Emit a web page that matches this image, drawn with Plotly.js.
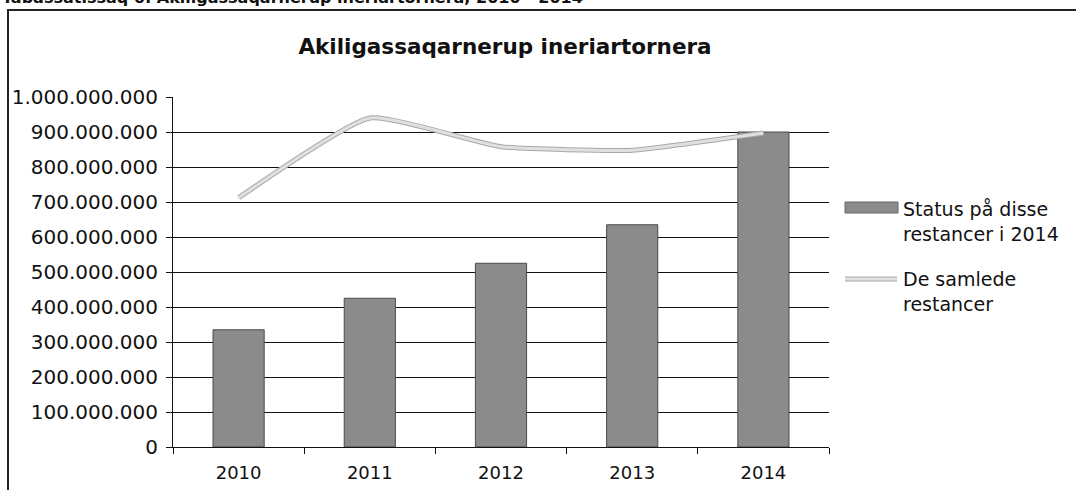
<!DOCTYPE html>
<html>
<head>
<meta charset="utf-8">
<script src="https://cdn.plot.ly/plotly-3.0.1.min.js"></script>
<style>html,body{margin:0;padding:0;background:#fff;}#chart{width:1076px;height:490px;}</style>
</head>
<body>
<div id="chart"></div>
<script>
const years = ['2010', '2011', '2012', '2013', '2014'];
const statusValues = [335000000, 425000000, 525000000, 635000000, 900000000];
const totalValues = [712000000, 940000000, 858000000, 848000000, 897000000];
const yTickValues = [0, 100000000, 200000000, 300000000, 400000000, 500000000, 600000000, 700000000, 800000000, 900000000, 1000000000];
const seriesNames = ['Status på disse restancer i 2014', 'De samlede restancer'];

const W = 1076, H = 490;
const L = 173, R = 829, T = 97, B = 447;
const px = x => (x - L) / (R - L);
const py = y => (B - y) / (B - T);
const font = 'DejaVu Sans, Verdana, sans-serif';

const traces = [
  {
    type: 'bar', x: years, y: statusValues, name: seriesNames[0],
    marker: {color: '#8b8b8b', line: {color: '#4a4a4a', width: 1}},
    showlegend: false, hoverinfo: 'x+y'
  },
  {
    type: 'scatter', mode: 'lines', x: years, y: totalValues, name: seriesNames[1],
    line: {color: '#a8a8a8', width: 5, shape: 'spline', smoothing: 0.45},
    showlegend: false, hoverinfo: 'skip'
  },
  {
    type: 'scatter', mode: 'lines', x: years, y: totalValues, name: seriesNames[1],
    line: {color: '#e0e0e0', width: 3, shape: 'spline', smoothing: 0.45},
    showlegend: false, hoverinfo: 'x+y'
  }
];

const layout = {
  width: W, height: H,
  margin: {l: L, r: W - R, t: T, b: H - B, pad: 0},
  paper_bgcolor: '#fff', plot_bgcolor: '#fff',
  separators: ',.',
  bargap: 0.61,
  font: {family: font, color: '#111', size: 18},
  title: {
    text: '<b>Akiligassaqarnerup ineriartornera</b>',
    font: {family: font, size: 21.5, color: '#111'},
    x: 505 / W, xref: 'container', xanchor: 'center',
    y: 1 - 46 / H, yref: 'container', yanchor: 'middle'
  },
  xaxis: {
    type: 'category',
    showgrid: false, zeroline: false,
    showline: true, linecolor: '#111', linewidth: 1,
    ticks: 'outside', ticklen: 6, tickcolor: '#111', tickson: 'boundaries',
    ticklabelstandoff: 9,
    tickfont: {family: font, size: 18, color: '#111'},
    automargin: false
  },
  yaxis: {
    range: [0, 1000000000], tickvals: yTickValues, tickformat: ',d',
    showgrid: true, gridcolor: '#111', gridwidth: 1,
    zeroline: false, showline: true, linecolor: '#111', linewidth: 1,
    ticks: 'outside', ticklen: 6, tickcolor: '#111',
    ticklabelstandoff: 4,
    tickfont: {family: font, size: 20, color: '#111'},
    automargin: false, fixedrange: true
  },
  shapes: [
    {type: 'rect', xref: 'paper', yref: 'paper', x0: px(8), x1: px(1085), y0: py(10), y1: py(500),
     line: {color: '#222', width: 2}, fillcolor: 'rgba(0,0,0,0)', layer: 'below'},
    {type: 'rect', xref: 'paper', yref: 'paper', x0: px(845), x1: px(898), y0: py(202), y1: py(213),
     line: {color: '#666', width: 1}, fillcolor: '#8b8b8b'},
    {type: 'line', xref: 'paper', yref: 'paper', x0: px(845), x1: px(897), y0: py(279), y1: py(279),
     line: {color: '#a8a8a8', width: 5}},
    {type: 'line', xref: 'paper', yref: 'paper', x0: px(845), x1: px(897), y0: py(279), y1: py(279),
     line: {color: '#e0e0e0', width: 3}}
  ],
  annotations: [
    {text: '<b>Tabassatissaq 6: Akiligassaqarnerup ineriartornera, 2010 - 2014</b>',
     xref: 'paper', yref: 'paper', x: px(0), y: py(-2), xanchor: 'left', yanchor: 'middle',
     showarrow: false, font: {family: font, size: 16, color: '#111'}},
    {text: 'Status på disse<br>restancer i 2014', xref: 'paper', yref: 'paper',
     x: px(901), y: py(221), xanchor: 'left', yanchor: 'middle', align: 'left',
     showarrow: false, font: {family: font, size: 19, color: '#111'}},
    {text: 'De samlede<br>restancer', xref: 'paper', yref: 'paper',
     x: px(901), y: py(291), xanchor: 'left', yanchor: 'middle', align: 'left',
     showarrow: false, font: {family: font, size: 19, color: '#111'}}
  ]
};

Plotly.newPlot('chart', traces, layout, {displayModeBar: false, staticPlot: true});
</script>
</body>
</html>
